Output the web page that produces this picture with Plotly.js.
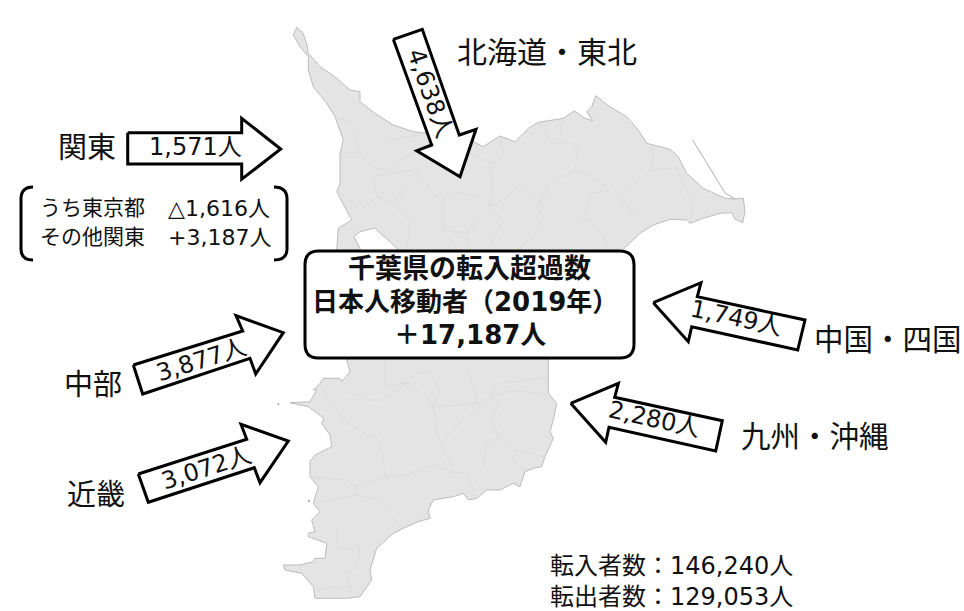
<!DOCTYPE html>
<html><head><meta charset="utf-8">
<script src="https://cdn.plot.ly/plotly-3.0.1.min.js"></script>
<style>html,body{margin:0;padding:0;background:#fff}#c{width:964px;height:611px}</style></head>
<body><div id="c"></div>
<script>
// Region net-migration values and labels
const regions = ['北海道・東北','関東','中部','近畿','中国・四国','九州・沖縄'];
const values = ['4,638人','1,571人','3,877人','3,072人','1,749人','2,280人'];
const kantoLabels = ['うち東京都','その他関東'];
const kantoValues = ['△1,616人','+3,187人'];
const titleLines = ['千葉県の転入超過数','日本人移動者（2019年）','＋17,187人'];
const footerLines = ['転入者数：146,240人','転出者数：129,053人'];

// Prefecture outline
const coastX = [296.7,302.7,306.7,308.3,320,335,350,360,360,375,393.3,413.3,426.7,470,483.3,500,515,528.3,538.3,556.7,563.3,574.3,585,592.7,586.7,591.7,595.7,610,626.7,638.3,646.7,670,678.3,686.7,703.3,725,735,743.3,744,745,742.7,735,731.7,720,703.3,690,686.7,670,653.3,640,623.3,600,565,550,548.3,548.3,556.7,553.3,550,553.3,545,541.7,533.3,525,520,513.3,500,486.7,476.7,468.3,463.3,453.3,433.3,428.3,430,418.3,406.7,393.3,376.7,370,371.7,360,346.7,330,315,313.3,301.7,285,283.3,300,313.3,315,325,326.7,316.7,308.3,308.3,315,311.7,320,313.3,318.3,310,310,315,331.7,330,321.7,324,308.3,290,310,316.7,313.3,320,323.3,340,341.7,350,346.7,370,398.3,388.3,380,375,360,354,360,358,337,336.7,338.3,351.7,336.7,340,340,343.3,335,326.7,313.3,308.3,308.3,300,293.3,296.7];
const coastY = [27.3,32.7,43.3,53.3,66.7,76.7,90,91.7,101.7,113.3,125,131.7,133.3,140,146.7,136,141.7,128.3,122.3,119,118.3,111,118.3,120.7,111.7,106.7,95.7,106.7,116.7,130,143.3,149.3,156.7,173.3,188.3,198.3,199,198.3,206.7,211.7,222.7,219.3,212.7,213.3,218.3,223.3,220,219.3,225,233.3,249.3,270,310,340,360,393.3,403.3,420,431.7,438.3,456.7,466.7,468.3,471.7,486.7,483.3,490,490,498.3,500,493.3,496.7,500,510,518.3,521.7,526.7,533.3,548.3,570,580,596.7,598.3,598.3,598.3,586.7,573.3,570,565,565,561.7,558.3,558.3,543.3,540,536.7,533.3,531.7,520,511.7,503.3,486.7,476.7,461.7,455,446.7,435,423.3,418.3,406.7,402.7,401.7,390,390,383.3,378.3,378.3,381.7,371.7,360,320,250,240,233.3,228,231.7,236.7,248.3,262,262,250,228.3,220,191.7,183.3,153.3,140,116.7,103.3,86.7,70,56.7,46.7,35,27.3];
// Interior municipal borders
const borderX = [320,333,347,367,377,383,385,400,433,453,467,473,475,null,433,437,447,453,null,310,347,357,385,null,357,357,380,400,null,315,357,null,337,337,347,360,357,347,350,null,317,333,357,null,443,460,480,490,513,547,null,490,498,492,500,487,483,null,500,517,545,null,517,512,523,null,347,377,407,430,433,440,427,400,null,433,478,490,null,467,478,null,385,385,407,null,490,500,528,547,null,490,493,488,503,490,null,500,503,490,470,null,538,550,570,578,575,550,537,543,533,520,null,563,560,null,575,593,610,593,583,597,610,null,653,652,630,620,633,623,null,652,677,693,690,null,520,507,490,null,520,540,550,null,335,352,360,373,387,400,427,null,380,387,420,null,342,360,null,337,360,377,373,null,373,393,413,437,443,null,377,393,410,null,443,443,457,null,393,410,407,null,443,467,480,null,467,470,null,443,460,480];
const borderY = [383,403,423,435,438,457,477,477,465,473,472,487,497,null,407,433,457,472,null,477,480,487,477,null,487,495,500,527,null,503,495,null,527,547,550,543,567,573,593,null,590,587,587,null,440,423,407,397,390,395,null,397,407,420,437,443,467,null,437,450,457,null,450,460,468,null,392,402,383,400,407,390,370,383,null,407,403,397,null,367,403,null,360,387,383,null,397,383,380,377,null,163,193,207,220,247,null,136,157,163,153,null,122,143,143,150,170,183,207,217,237,247,null,120,137,null,170,177,190,193,217,227,247,null,147,170,187,197,213,220,null,170,168,207,222,null,183,197,207,null,183,203,183,null,117,123,153,167,170,160,147,null,133,140,135,null,153,153,null,190,210,197,177,null,177,173,170,197,197,null,197,203,183,null,197,230,247,null,203,220,250,null,230,233,217,null,233,250,null,197,193,197];
// Thin sand-spit line off the east cape, and offshore specks
const spitX = [692.7,725,735];
const spitY = [140,193,199];
const speckX = [278.3,309];
const speckY = [404.3,501];

// Arrow outlines
const arrowNorthX = [393.3,422.3,459.3,476,460,416.7,431.7,393.3];
const arrowNorthY = [39.3,29.3,135,129.3,176.7,150.7,145,39.3];
const arrowKantoX = [127.7,241.7,241.7,280.7,241.7,241.7,127.7,127.7];
const arrowKantoY = [132.7,132.7,118.3,149,179.3,164,164,132.7];
const arrowChubuX = [133.3,242.7,236,283.3,255.7,250,142.7,133.3];
const arrowChubuY = [365,331,315.7,332.7,374,358.3,394,365];
const arrowKinkiX = [138.3,246.7,241,288.3,260,254.3,148.3,138.3];
const arrowKinkiY = [474,439.3,424.3,441,482.7,467.7,502.3,474];
const arrowChugokuX = [653.3,701,697.3,805,797.7,691.7,688.3,653.3];
const arrowChugokuY = [302.7,282.7,296.7,320,350,326.7,341.7,302.7];
const arrowKyushuX = [570.7,618.4,614.7,722.3,715.7,609,605.7,570.7];
const arrowKyushuY = [403.3,383.3,397.3,420.7,451,427.3,442.3,403.3];

const LATIN = '"DejaVu Sans","Noto Sans CJK JP",sans-serif';
const arrows = [[arrowNorthX,arrowNorthY],[arrowKantoX,arrowKantoY],[arrowChubuX,arrowChubuY],[arrowKinkiX,arrowKinkiY],[arrowChugokuX,arrowChugokuY],[arrowKyushuX,arrowKyushuY]];

const traces = [
  {x:coastX,y:coastY,mode:'lines',fill:'toself',fillcolor:'#e4e4e4',line:{color:'#bcbcbc',width:1},hoverinfo:'skip'},
  {x:borderX,y:borderY,mode:'lines',line:{color:'#dcdcdc',width:1},hoverinfo:'skip',connectgaps:false},
  {x:spitX,y:spitY,mode:'lines',line:{color:'#b0b0b0',width:1},hoverinfo:'skip'},
  {x:speckX,y:speckY,mode:'markers',marker:{color:'#999',size:2},hoverinfo:'skip'}
].concat(arrows.map(a=>({x:a[0],y:a[1],mode:'lines',fill:'toself',fillcolor:'#fff',line:{color:'#000',width:3},hoverinfo:'skip'})));

function note(text,x,y,size,opts){
  return Object.assign({text:text,x:x,y:y,xref:'x',yref:'y',showarrow:false,xanchor:'center',yanchor:'middle',
    font:{family:LATIN,size:size,color:'#111'}},opts||{});
}
const annotations = [
  note(regions[0],547,52,30),
  note(regions[1],87,148,29),
  note(regions[2],93,385,29),
  note(regions[3],95.5,495,29),
  note(regions[4],888,340,29.5),
  note(regions[5],815,437,29.5),
  note(values[0],430,93,24,{textangle:70.8}),
  note(values[1],195,147,24),
  note(values[2],201.7,360,24,{textangle:-17.3}),
  note(values[3],206.7,468,24,{textangle:-17.7}),
  note(values[4],736.7,318,24,{textangle:12.2}),
  note(values[5],654,418.6,24,{textangle:12.3}),
  note(kantoLabels[0],38,208,21,{xanchor:'left'}),
  note(kantoLabels[1],38,237,21,{xanchor:'left'}),
  note(kantoValues[0],166,208,22,{xanchor:'left'}),
  note(kantoValues[1],166,237,22,{xanchor:'left'}),
  note('<b>'+titleLines[0]+'</b>',469,268,27),
  note('<b>'+titleLines[1]+'</b>',465,302,26),
  note('<b>'+titleLines[2]+'</b>',470,335,26),
  note(footerLines[0],548,566,24,{xanchor:'left'}),
  note(footerLines[1],548,597,24,{xanchor:'left'})
];

const shapes = [
  {type:'path',xref:'x',yref:'y',layer:'above',fillcolor:'#fff',line:{color:'#000',width:3},
   path:'M318,251 L620,251 Q634,251 634,265 L634,344 Q634,358 620,358 L318,358 Q305,358 305,344 L305,265 Q305,251 318,251 Z'},
  {type:'path',xref:'x',yref:'y',layer:'above',line:{color:'#000',width:3},path:'M33,187 Q21,187 21,199 L21,249 Q21,260 33,260'},
  {type:'path',xref:'x',yref:'y',layer:'above',line:{color:'#000',width:3},path:'M274,187 Q287,187 287,199 L287,249 Q287,260 274,260'}
];

Plotly.newPlot('c',traces,{
  width:964,height:611,margin:{l:0,r:0,t:0,b:0},showlegend:false,hovermode:false,
  paper_bgcolor:'#fff',plot_bgcolor:'#fff',
  xaxis:{range:[0,964],visible:false,fixedrange:true},
  yaxis:{range:[611,0],visible:false,fixedrange:true},
  annotations:annotations,shapes:shapes
},{displayModeBar:false,staticPlot:true}).then(()=>{
  document.querySelectorAll('.js-line').forEach(p=>{p.style.strokeMiterlimit=10;p.style.strokeLinejoin='miter';});
});
</script></body></html>
